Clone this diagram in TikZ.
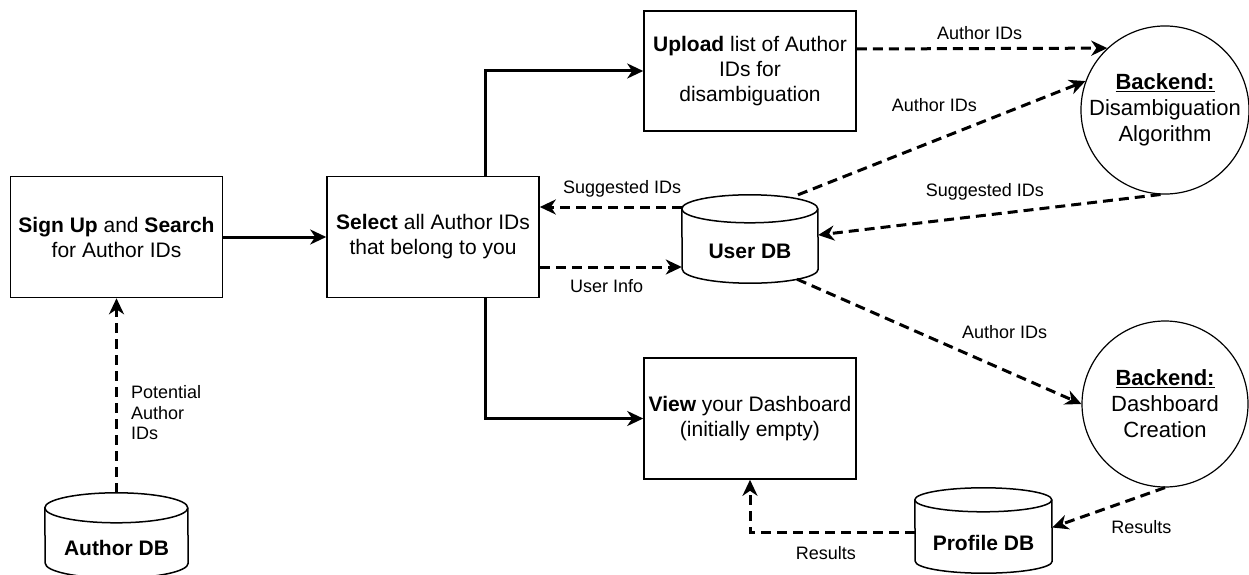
\documentclass[tikz,border=0pt]{standalone}
\usepackage{fontspec}
\setmainfont{Liberation Sans}
\usepackage{tikz}
\usetikzlibrary{arrows.meta}
\tikzset{
  box/.style={draw=black, line width=1.6pt, minimum width=212pt, minimum height=121pt,
    inner sep=0pt, align=center, font=\fontsize{21}{25}\selectfont},
  db/.style={inner sep=0pt, font=\fontsize{21}{25}\selectfont\bfseries,
    text height=39pt, text depth=0pt},
  proc/.style={draw=black, circle, line width=1.2pt, minimum size=166pt, inner sep=0pt,
    align=center, font=\fontsize{22}{26}\selectfont},
  lbl/.style={inner sep=2pt, font=\fontsize{18}{20.5}\selectfont},
  flow/.style={line width=3pt, -{Stealth[length=16pt,width=15pt,inset=5pt]}},
  dataflow/.style={flow, dash pattern=on 10pt off 6pt},
}
% cylinder round a named node: node, x radius, y radius
\newcommand{\dbshape}[3]{%
  \draw[line width=1.5pt] ([yshift=-#3]#1.north west)
    arc[start angle=180, end angle=0, x radius=#2, y radius=#3]
    -- ([yshift=#3]#1.south east)
    arc[start angle=0, end angle=-180, x radius=#2, y radius=#3] -- cycle;
  \draw[line width=1.5pt] ([yshift=-#3]#1.north west)
    arc[start angle=180, end angle=360, x radius=#2, y radius=#3];
}

\begin{document}
\begin{tikzpicture}[x=1pt, y=-1pt]
  \useasboundingbox (0,0) rectangle (1249,575);
  % front end steps
  \node[box] (signup) at (116.5,237) {\textbf{Sign Up} and \textbf{Search}\\for Author IDs};
  \node[box] (select) at (433,237) {\textbf{Select} all Author IDs\\that belong to you};
  \node[box, minimum height=120pt] (upload) at (750,71) {\textbf{Upload} list of Author\\IDs for\\disambiguation};
  \node[box] (view) at (750,418.5) {\textbf{View} your Dashboard\\(initially empty)};
  % databases
  \node[db, minimum width=143pt, minimum height=85pt] (authordb) at (116.5,535.5) {Author DB};
  \node[db, minimum width=136pt, minimum height=88pt] (userdb) at (750,239) {User DB};
  \node[db, minimum width=137pt, minimum height=85pt] (profiledb) at (983.5,530.5) {Profile DB};
  \dbshape{authordb}{71.5pt}{15pt}
  \dbshape{userdb}{68pt}{14pt}
  \dbshape{profiledb}{68.5pt}{12pt}
  % backend
  \node[proc] (disamb) at (1165,110) {\underline{\textbf{Backend:}}\\Disambiguation\\Algorithm};
  \node[proc] (dashgen) at (1165,404) {\underline{\textbf{Backend:}}\\Dashboard\\Creation};
  % user steps
  \draw[flow] (signup) -- (select);
  \draw[flow] ([xshift=52pt]select.north) |- (upload.west);
  \draw[flow] ([xshift=52pt]select.south) |- (view.west);
  % data
  \draw[dataflow] (authordb.north) -- (signup.south)
    node[lbl, pos=0.41, anchor=west, align=left, xshift=13pt, inner sep=0pt] {Potential\\Author\\IDs};
  \draw[dataflow] ([yshift=32pt]userdb.west) -- ([yshift=30pt]select.east)
    node[lbl, pos=0.42, above=6.5pt] {Suggested IDs};
  \draw[dataflow] ([yshift=-30pt]select.east) -- ([yshift=-28pt]userdb.west)
    node[lbl, pos=0.47, below=8.5pt] {User Info};
  \draw[dataflow] ([yshift=22pt]upload.east) -- (disamb.133)
    node[lbl, pos=0.49, above=5.5pt] {Author IDs};
  \draw[dataflow] ([xshift=48pt]userdb.north) -- (disamb.160)
    node[lbl, pos=0.474, above=26pt] {Author IDs};
  \draw[dataflow] (disamb.-93) -- ([yshift=4pt]userdb.east)
    node[lbl, pos=0.513, above=11.5pt] {Suggested IDs};
  \draw[dataflow] ([xshift=47pt,yshift=4pt]userdb.south) -- (dashgen.west)
    node[lbl, pos=0.73, above=28.5pt] {Author IDs};
  \draw[dataflow] (dashgen.south) -- ([yshift=3pt]profiledb.east)
    node[lbl, pos=0.21, below=21pt] {Results};
  \draw[dataflow] ([yshift=-1.5pt]profiledb.west) -| (view.south)
    node[lbl, pos=0.27, below=11pt] {Results};
\end{tikzpicture}
\end{document}
